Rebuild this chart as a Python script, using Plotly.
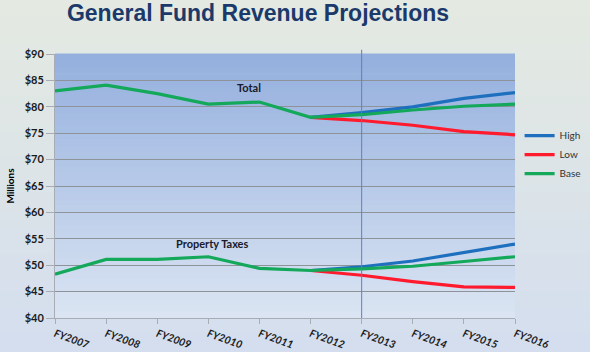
import plotly.graph_objects as go

years = ["FY2007", "FY2008", "FY2009", "FY2010", "FY2011",
         "FY2012", "FY2013", "FY2014", "FY2015", "FY2016"]
proj_years = ["FY2012", "FY2013", "FY2014", "FY2015", "FY2016"]

# Total general fund revenue ($ millions)
total_base = [83.0, 84.1, 82.5, 80.5, 80.9, 78.0, 78.5, 79.4, 80.1, 80.5]
total_high = [78.0, 78.9, 80.0, 81.6, 82.7]
total_low = [78.0, 77.4, 76.5, 75.3, 74.7]

# Property taxes ($ millions)
prop_base = [48.3, 51.1, 51.1, 51.6, 49.4, 49.0, 49.3, 49.8, 50.7, 51.6]
prop_high = [49.0, 49.7, 50.8, 52.4, 54.0]
prop_low = [49.0, 48.1, 46.9, 45.9, 45.8]

y_ticks = [40, 45, 50, 55, 60, 65, 70, 75, 80, 85, 90]
y_labels = ["$" + str(v) for v in y_ticks]

BLUE = "#1F6FBF"
RED = "#FF1A2E"
GREEN = "#14A85A"

fig = go.Figure()
for name, color, tv, pv, xs in [
    ("High", BLUE, total_high, prop_high, proj_years),
    ("Low", RED, total_low, prop_low, proj_years),
    ("Base", GREEN, total_base, prop_base, years),
]:
    fig.add_trace(go.Scatter(x=xs, y=tv, mode="lines", name=name,
                             line=dict(color=color, width=3.2), legendgroup=name))
    fig.add_trace(go.Scatter(x=xs, y=pv, mode="lines", name=name, showlegend=False,
                             line=dict(color=color, width=3.2), legendgroup=name))


def lerp(c1, c2, t):
    a = [int(c1[i:i + 2], 16) for i in (1, 3, 5)]
    b = [int(c2[i:i + 2], 16) for i in (1, 3, 5)]
    return "rgb(%d,%d,%d)" % tuple(round(a[k] + (b[k] - a[k]) * t) for k in range(3))


shapes = []
# page background gradient
L, R, T, B, W, H = 55, 75, 54, 34, 590, 352
pw, ph = W - L - R, H - T - B
n = 40
for i in range(n):
    y0 = (H - B - (i * H / n)) / ph
    y1 = (H - B - ((i + 1) * H / n)) / ph
    shapes.append(dict(type="rect", xref="paper", yref="paper",
                       x0=-L / pw, x1=(W - L) / pw, y0=y1, y1=y0 + 0.002,
                       fillcolor=lerp("#E4EAE1", "#D4DEEE", i / (n - 1)),
                       line=dict(width=0), layer="below"))
# plot area gradient
m = 40
for i in range(m):
    shapes.append(dict(type="rect", xref="paper", yref="paper",
                       x0=0, x1=1, y0=i / m, y1=(i + 1) / m + 0.002,
                       fillcolor=lerp("#DAE4F3", "#95B0DE", i / (m - 1)),
                       line=dict(width=0), layer="below"))
# forecast divider
shapes.append(dict(type="line", xref="x", yref="paper", x0="FY2013", x1="FY2013",
                   y0=0, y1=1.016, line=dict(color="#5A82C0", width=1)))

fig.update_layout(
    width=590, height=352,
    margin=dict(l=L, r=R, t=T, b=B, autoexpand=False),
    paper_bgcolor="#DDE4E8",
    plot_bgcolor="rgba(0,0,0,0)",
    shapes=shapes,
    showlegend=True,
    legend=dict(x=1.01, y=0.746, xanchor="left", yanchor="top",
                bgcolor="rgba(0,0,0,0)", itemwidth=30, tracegroupgap=0,
                font=dict(family="Lato", size=10, color="#333333")),
    title=dict(text="<b>General Fund Revenue Projections</b>", x=258 / 590, xanchor="center",
               xref="container", y=0.985, yanchor="top",
               font=dict(family="Liberation Sans", size=23, color="#1B3A6B")),
    annotations=[
        dict(x=3.8, y=83.6, xref="x", yref="y", text="<b>Total</b>", showarrow=False,
             font=dict(family="Lato", size=11, color="#1a1a2a")),
        dict(x=3.08, y=54.2, xref="x", yref="y", text="<b>Property Taxes</b>", showarrow=False,
             font=dict(family="Lato", size=11, color="#1a1a2a")),
    ],
)
fig.update_xaxes(type="category", categoryorder="array", categoryarray=years,
                 range=[0, 9], showgrid=False, showline=True, linecolor="#A8ADB5",
                 linewidth=1, ticks="outside", ticklen=5, tickcolor="#A8ADB5",
                 tickangle=20, zeroline=False, automargin=False,
                 tickfont=dict(family="Lato", size=10.5, color="#1a1a1a", weight="bold",
                               style="italic"))
fig.update_yaxes(range=[40, 90], tickvals=y_ticks, ticktext=y_labels,
                 showgrid=True, gridcolor="#8E9299", gridwidth=1.4,
                 showline=True, linecolor="#A8ADB5", linewidth=1,
                 ticks="outside", ticklen=8, tickcolor="#A8ADB5", zeroline=False,
                 automargin=False,
                 tickfont=dict(family="Lato", size=11, color="#1a1a1a", weight="bold"),
                 title=dict(text="<b>Millions</b>", standoff=8,
                            font=dict(family="Lato", size=10, color="#000000")))

fig.write_html("out.html")
